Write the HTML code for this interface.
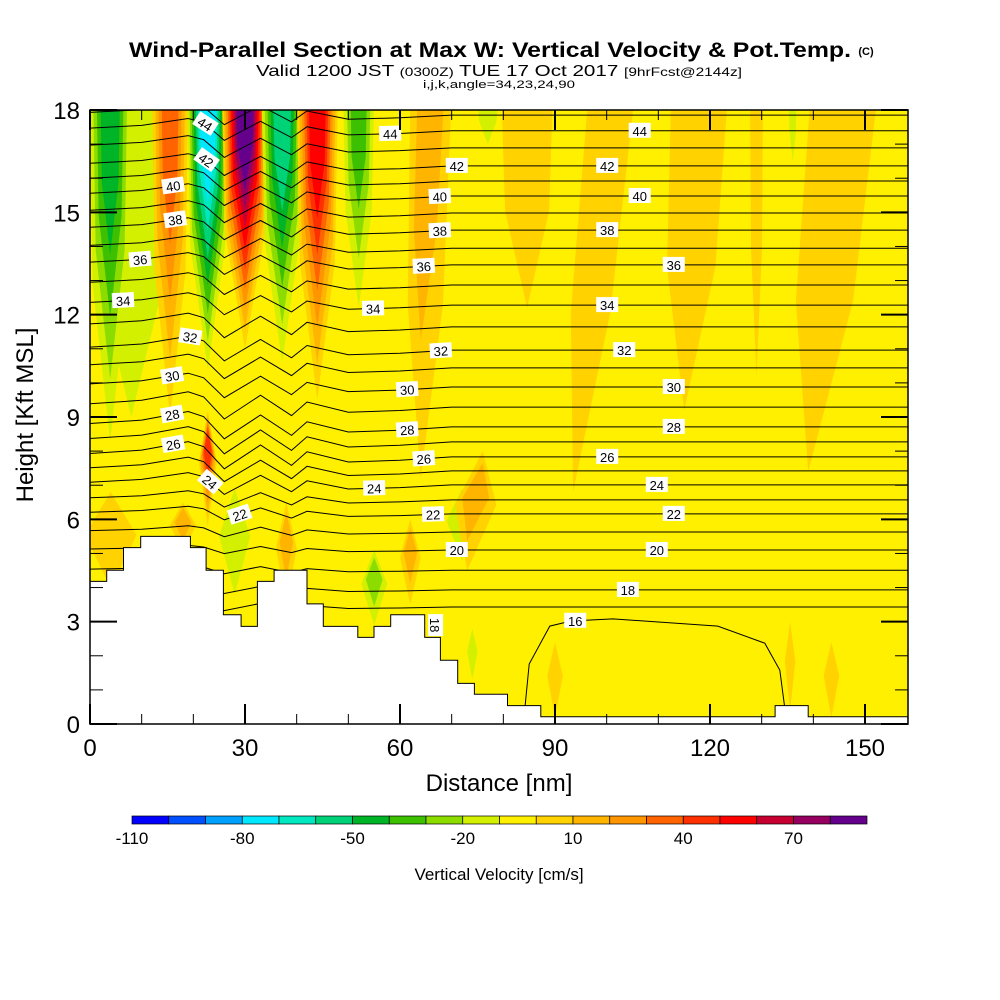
<!DOCTYPE html>
<html><head><meta charset="utf-8"><style>
body{margin:0;background:#fff;}
svg{display:block;font-family:"Liberation Sans",sans-serif;}
</style></head><body>
<svg id="chart" width="1000" height="1000" viewBox="0 0 1000 1000">
<defs><clipPath id="pc"><rect x="90" y="110" width="818" height="614"/></clipPath></defs>
<text x="490" y="57" text-anchor="middle" font-size="21" font-weight="bold" textLength="722" lengthAdjust="spacingAndGlyphs">Wind-Parallel Section at Max W: Vertical Velocity &amp; Pot.Temp.</text>
<text x="866" y="55" text-anchor="middle" font-size="11" font-weight="bold">(C)</text>
<text x="499" y="76" text-anchor="middle" font-size="16" textLength="486" lengthAdjust="spacingAndGlyphs">Valid 1200 JST <tspan font-size="12">(0300Z)</tspan> TUE 17 Oct 2017 <tspan font-size="12">[9hrFcst@2144z]</tspan></text>
<text x="499" y="88" text-anchor="middle" font-size="11" textLength="152" lengthAdjust="spacingAndGlyphs">i,j,k,angle=34,23,24,90</text>
<rect x="90" y="110" width="818" height="614" fill="#fff000"/>
<g id="blobs" clip-path="url(#pc)"></g>
<g id="lines" clip-path="url(#pc)" fill="none" stroke="#000" stroke-width="1"></g>
<g id="terrain" clip-path="url(#pc)"></g>
<g id="labels"></g>
<g id="axes"></g>
<text x="499" y="791" text-anchor="middle" font-size="24">Distance [nm]</text>
<text transform="translate(33,415) rotate(-90)" text-anchor="middle" font-size="24">Height [Kft MSL]</text>
<g id="cbar"></g>
<text x="499" y="880" text-anchor="middle" font-size="17">Vertical Velocity [cm/s]</text>
</svg>
<script>
const cbColors=["#0000ff","#0050ff","#00a0ff","#00e8ff","#00e8c0","#00d278","#00b428","#3cc000","#8cdc00","#d2f000","#fff000","#ffd200","#ffb400","#ff9600","#ff6400","#ff3000","#ff0000","#c80032","#960060","#64008c"];
const cbTicks=[-110,-80,-50,-20,10,40,70];
const xTicks=[0,30,60,90,120,150];
const yTicks=[0,3,6,9,12,15,18];
// blobs: top x, bottom x (nm), top, bottom (kft), width (nm), peak (cm/s)
const blobXTop=[8,84.6,101,118,129,146,77,136,3.9,15.5,22.8,30,37.2,44,52,66,22.8,4,28,38,55,62,72,76,90,135.5,143.5,74,18];
const blobXBot=[8,84.6,93.5,115,129,139,77,136,3.9,15.5,22.8,30,37.2,44,52,64,22.8,4,28,38,55,62,72,73,90,135.5,143.5,74,18];
const blobTop=[18,18,18,18,18,18,18,18,18,18,18,18,18,18,18,18,9.2,6.8,6.9,6.5,5.1,6,6.9,8,2.4,3.0,2.4,2.8,6.5];
const blobBot=[9,12.2,6.8,9.2,10.2,7.4,17.0,16.5,8.3,9,10.4,11,10.6,9.5,12.2,7.2,5.8,4,3.8,3.5,2.9,3.5,4.8,4.5,0.2,0.4,0.2,1.3,5];
const blobW=[16,10,9,11,2.5,13,4,1.5,8,7,8,9,8,8,6,8,3.5,10,6,4,5,4,6,8,3,2,3,2,5];
const blobPeak=[-15,5,5,5,5,5,-15,-15,-50,30,-80,80,-60,50,-40,15,40,5,-15,15,-25,15,-15,10,5,5,5,-15,10];
// potential temperature levels and their heights (kft) on the right side
const thetaLevels=[17,18,19,20,21,22,23,24,25,26,27,28,29,30,31,32,33,34,35,36,37,38,39,40,41,42,43,44,45];
const thetaBase=[3.43,3.93,4.51,5.10,5.63,6.16,6.57,7.01,7.42,7.83,8.27,8.71,9.29,9.88,10.44,10.96,11.64,12.28,12.87,13.46,13.95,14.48,14.98,15.48,15.92,16.36,16.89,17.39,17.85];
const thetaAmp=[0.3,0.3,0.3,0.3,0.4,0.5,0.6,0.8,0.9,1,1,1,1,0.9,0.9,0.9,0.9,0.8,0.8,0.8,0.8,0.8,0.8,0.8,0.8,0.8,0.8,0.8,0.8];
const waveX=[0,10,19,22,26,33,39,42,50,60,70,85,158.3];
const waveD=[0.1,0.2,0.45,0.3,-0.35,0.35,-0.25,0.15,-0.15,-0.1,0,0,0];
const c16X=[84.0,85.0,89.0,93.1,101.2,121.5,130.6,133.5,134.7];
const c16Y=[0.2,1.76,2.87,3.02,3.08,2.87,2.37,1.58,0.2];
const labelLevel=[44,42,40,38,36,34,32,30,28,26,24,22,20,18,44,42,40,38,36,34,32,30,28,26,24,22,20,44,42,40,38,36,34,32,30,28,26,24,22];
const labelNm=[106.4,100.1,106.4,100.1,113,100.1,103.4,113,113,100.1,109.7,113,109.7,104.1,58.1,71,67.7,67.7,64.6,54.8,67.9,61.4,61.4,64.6,55,66.4,71,22.3,22.5,16.1,16.5,9.7,6.4,19.4,15.9,15.9,16.1,23.2,29];
// terrain step edges (nm) and heights (kft)
const terrEdges=[0,3.23,6.48,9.81,19.43,22.47,25.82,29.25,32.40,35.63,42.0,45.15,51.83,54.97,58.2,64.78,67.82,71.17,74.4,80.8,87.25,132.6,139,158.3];
const terrH=[4.18,4.51,5.17,5.50,5.17,4.51,3.20,2.86,4.18,4.51,3.52,2.86,2.54,2.86,3.20,2.54,1.87,1.19,0.87,0.54,0.21,0.54,0.21];

const NS="http://www.w3.org/2000/svg";
const X=nm=>90+nm*5.1667, Y=k=>724-k*34.111;
function mk(tag,attrs,parent){const e=document.createElementNS(NS,tag);for(const k in attrs)e.setAttribute(k,attrs[k]);parent.appendChild(e);return e;}
function bin(v){return Math.max(0,Math.min(19,Math.floor((v+110)/10)));}
function interp(xs,ys,x){for(let i=0;i<xs.length-1;i++){if(x<=xs[i+1]){const t=(x-xs[i])/(xs[i+1]-xs[i]);return ys[i]+t*(ys[i+1]-ys[i]);}}return ys[ys.length-1];}

// blobs
const gB=document.getElementById('blobs');
blobPeak.forEach((p,i)=>{
  const b=bin(p), n=Math.abs(b-10), dir=b>10?1:-1;
  for(let k=0;k<n;k++){
    const f=k/n, w=blobW[i]*(1-f*0.7)/2;
    const top=blobTop[i], bot=blobBot[i];
    const flat=top>=18;
    const tk=flat?18.5:top-(top-bot)*f*0.2;
    const bk=bot+(top-bot)*f*(flat?0.75:0.5);
    const fm=flat?0.55:0.45;
    const ym=tk-(tk-bk)*fm;
    const xm=blobXTop[i]+(blobXBot[i]-blobXTop[i])*fm;
    let pts;
    if(flat) pts=[[blobXTop[i]-w,tk],[blobXTop[i]+w,tk],[xm+w*0.85,ym],[blobXBot[i],bk],[xm-w*0.85,ym]];
    else pts=[[blobXTop[i],tk],[xm+w,ym],[blobXBot[i],bk],[xm-w,ym]];
    const el=mk('polygon',{points:pts.map(q=>X(q[0]).toFixed(1)+','+Y(q[1]).toFixed(1)).join(' '),fill:cbColors[10+dir*(k+1)],'stroke-linejoin':'round'},gB);
    
    
  }
});

// theta lines
const gL=document.getElementById('lines');
function lineY(li,nm){return thetaBase[li]+thetaAmp[li]*interp(waveX,waveD,nm);}
thetaLevels.forEach((lv,li)=>{
  const d=waveX.map((x,j)=>(j?'L':'M')+X(x).toFixed(1)+','+Y(lineY(li,x)).toFixed(1)).join('');
  const el=mk('path',{d:d},gL);
  
  
});
const c16=mk('path',{d:c16X.map((x,j)=>(j?'L':'M')+X(x).toFixed(1)+','+Y(c16Y[j]).toFixed(1)).join('')},gL);



// terrain
const gT=document.getElementById('terrain');
let td='M'+X(0)+','+Y(0);
terrH.forEach((h,i)=>{td+='L'+X(terrEdges[i]).toFixed(1)+','+Y(h).toFixed(1)+'L'+X(terrEdges[i+1]).toFixed(1)+','+Y(h).toFixed(1);});
td+='L'+X(158.3)+','+Y(0)+'Z';
const tp=mk('path',{d:td,fill:'#fff',stroke:'#000','stroke-width':1},gT);



// labels
const gLb=document.getElementById('labels');
function addLabel(txt,x,y,ang){
  const g=mk('g',{transform:`translate(${x.toFixed(1)},${y.toFixed(1)}) rotate(${ang.toFixed(1)})`},gLb);
  
  
  mk('rect',{x:-11,y:-8,width:22,height:15,fill:'#fff'},g);
  const t=mk('text',{x:0,y:5,'text-anchor':'middle','font-size':13},g);t.textContent=txt;
}
labelLevel.forEach((lv,i)=>{
  const li=thetaLevels.indexOf(lv), nm=labelNm[i];
  const y1=Y(lineY(li,nm-1)), y2=Y(lineY(li,nm+1));
  let ang=Math.atan2(y2-y1,X(nm+1)-X(nm-1))*180/Math.PI;
  addLabel(String(lv),X(nm),Y(lineY(li,nm)),ang);
});
addLabel('16',X(93.9),Y(interp(c16X,c16Y,93.9)),0);
addLabel('18',X(66.8),Y(2.9),90);

// axes
const gA=document.getElementById('axes');
mk('rect',{x:90,y:110,width:818,height:614,fill:'none',stroke:'#000','stroke-width':1.5},gA);
for(let nm=0;nm<=158;nm+=10){
  const major=nm%30===0, L=major?20:10;
  mk('line',{x1:X(nm),y1:724,x2:X(nm),y2:724-L,stroke:'#000','stroke-width':major?2:1},gA);
  mk('line',{x1:X(nm),y1:110,x2:X(nm),y2:110+L,stroke:'#000','stroke-width':major?2:1},gA);
}
for(let k=0;k<=18;k++){
  const major=k%3===0, L=major?27:13;
  mk('line',{x1:90,y1:Y(k),x2:90+L,y2:Y(k),stroke:'#000','stroke-width':major?2:1},gA);
  mk('line',{x1:908,y1:Y(k),x2:908-L,y2:Y(k),stroke:'#000','stroke-width':major?2:1},gA);
}
xTicks.forEach(v=>{const t=mk('text',{x:X(v),y:756,'text-anchor':'middle','font-size':24},gA);t.textContent=v;
  });
yTicks.forEach(v=>{const t=mk('text',{x:80,y:Y(v)+9,'text-anchor':'end','font-size':24},gA);t.textContent=v;
  });

// colorbar
const gC=document.getElementById('cbar');
const cw=735/cbColors.length;
cbColors.forEach((c,i)=>{const r=mk('rect',{x:132+i*cw,y:816,width:cw,height:8,fill:c,stroke:'#000','stroke-width':0.7},gC);
  });
cbTicks.forEach(v=>{const t=mk('text',{x:132+(v+110)/10*cw,y:844,'text-anchor':'middle','font-size':17},gC);t.textContent=v;
  });
</script>
</body></html>
